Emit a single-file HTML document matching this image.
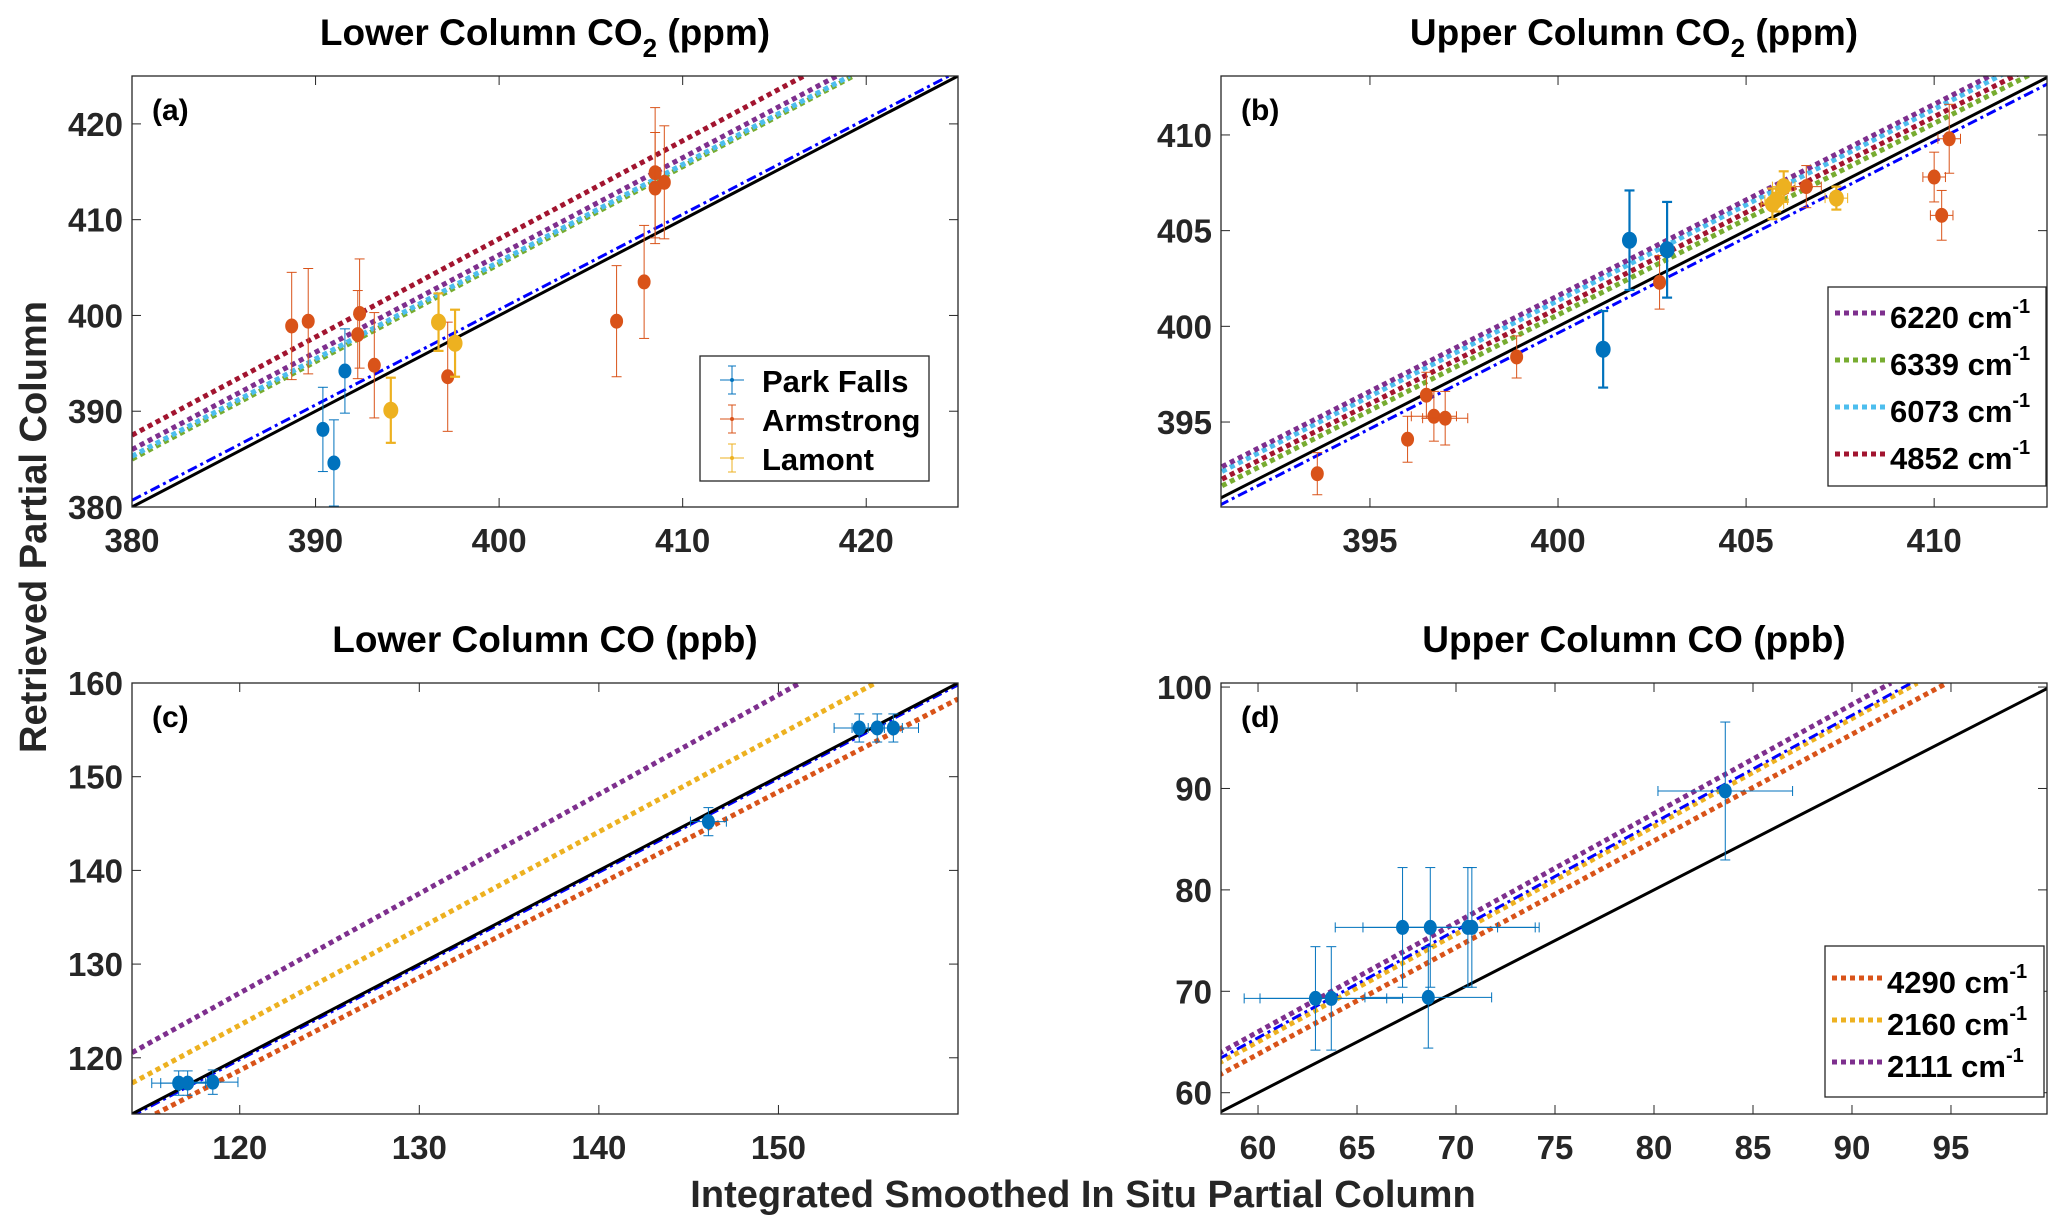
<!DOCTYPE html>
<html><head><meta charset="utf-8"><style>
html,body{margin:0;padding:0;background:#fff;}
svg{display:block;font-family:"Liberation Sans",Arial,sans-serif;}
</style></head><body>
<svg id="fig" width="2067" height="1229" viewBox="0 0 2067 1229" xmlns="http://www.w3.org/2000/svg">
<text x="0" y="0" transform="translate(46,527) rotate(-90)" text-anchor="middle" font-size="38" font-weight="bold" fill="#262626">Retrieved Partial Column</text>
<text x="1083" y="1207" text-anchor="middle" font-size="38" font-weight="bold" fill="#262626">Integrated Smoothed In Situ Partial Column</text>
</svg>
<script>
// ---- Panel (a) data ----
const aXTicks = [380, 390, 400, 410, 420];
const aYTicks = [380, 390, 400, 410, 420];
const aLineNames = ['4852 cm-1', '6220 cm-1', '6073 cm-1', '6339 cm-1', 'retrieval-fit', 'one-to-one'];
const aLineX0 = [380, 380, 380, 380, 380, 380];
const aLineY0 = [387.5, 386.0, 385.3, 385.0, 380.7, 380];
const aLineX1 = [416.6, 418.4, 419.1, 419.3, 424.5, 425];
const aLineY1 = [425, 425, 425, 425, 425, 425];
const aPFx = [390.4, 391.0, 391.6];
const aPFy = [388.1, 384.6, 394.2];
const aPFe = [4.4, 4.5, 4.4];
const aARx = [388.7, 389.6, 392.4, 392.3, 393.2, 397.2, 406.4, 407.9, 408.5, 408.5, 409.0];
const aARy = [398.9, 399.4, 400.2, 398.0, 394.8, 393.6, 399.4, 403.5, 414.9, 413.3, 413.9];
const aARe = [5.6, 5.5, 5.7, 4.6, 5.5, 5.7, 5.8, 5.9, 6.8, 5.8, 5.9];
const aLAx = [394.1, 396.7, 397.6];
const aLAy = [390.1, 399.3, 397.1];
const aLAe = [3.4, 3.0, 3.5];

// ---- Panel (b) data ----
const bXTicks = [395, 400, 405, 410];
const bYTicks = [395, 400, 405, 410];
const bLineOffsets = [1.6, 1.35, 0.95, 0.6, -0.35, 0];
const bPFx = [401.9, 402.9, 401.2];
const bPFy = [404.5, 404.0, 398.8];
const bPFe = [2.6, 2.5, 2.0];
const bARx = [393.6, 396.0, 396.5, 396.7, 397.0, 398.9, 402.7, 406.6, 410.0, 410.2, 410.4];
const bARy = [392.3, 394.1, 396.4, 395.3, 395.2, 398.4, 402.3, 407.3, 407.8, 405.8, 409.8];
const bARe = [1.1, 1.2, 1.2, 1.3, 1.4, 1.1, 1.4, 1.1, 1.3, 1.3, 1.8];
const bARxe = [0, 0.1, 0.1, 0.6, 0.6, 0.1, 0.1, 0.4, 0.3, 0.3, 0.3];
const bLAx = [405.7, 406.0, 405.8, 407.4];
const bLAy = [406.4, 407.3, 406.6, 406.7];
const bLAe = [0.8, 0.8, 0.6, 0.6];

// ---- Panel (c) data ----
const cXTicks = [120, 130, 140, 150];
const cYTicks = [120, 130, 140, 150, 160];
const cLineX0 = [114, 114, 115.3, 114, 114];
const cLineY0 = [120.55, 117.3, 114, 113.8, 114];
const cLineX1 = [151.2, 155.4, 160, 160, 160];
const cLineY1 = [160, 160, 158.3, 159.8, 160];
const cPtx = [116.6, 117.1, 118.5, 146.1, 154.5, 155.5, 156.4];
const cPty = [117.3, 117.3, 117.4, 145.2, 155.2, 155.2, 155.2];
const cPtye = [1.3, 1.3, 1.3, 1.5, 1.5, 1.5, 1.5];
const cPtxe = [1.5, 1.5, 1.4, 1.0, 1.4, 1.4, 1.4];

// ---- Panel (d) data ----
const dXTicks = [60, 65, 70, 75, 80, 85, 90, 95];
const dYTicks = [60, 70, 80, 90, 100];
const dLineX0 = [58, 58, 58, 58, 58];
const dLineY0 = [61.7, 62.9, 63.3, 63.85, 58];
const dLineX1 = [94.8, 93.3, 93.0, 91.97, 100];
const dLineY1 = [100.4, 100.4, 100.4, 100.4, 100];
const dPtx = [62.9, 63.7, 67.3, 68.7, 68.6, 70.6, 70.8, 83.6];
const dPty = [69.3, 69.3, 76.3, 76.3, 69.4, 76.3, 76.3, 89.75];
const dPtye = [5.1, 5.1, 5.9, 5.9, 5.0, 5.9, 5.9, 6.8];
const dPtxe = [3.6, 3.6, 3.4, 3.4, 3.2, 3.4, 3.4, 3.4];

const NS = 'http://www.w3.org/2000/svg';
const svg = document.getElementById('fig');
function mk(tag, attrs, parent) {
  const e = document.createElementNS(NS, tag);
  for (const k in attrs) e.setAttribute(k, attrs[k]);
  (parent || svg).appendChild(e);
  return e;
}
function scale(d0, d1, p0, p1) { return v => p0 + (v - d0) / (d1 - d0) * (p1 - p0); }

const C = { blue: '#0072BD', orange: '#D95319', yellow: '#EDB120', purple: '#7E2F8E', green: '#77AC30', cyan: '#4DBEEE', red: '#A2142F', dblue: '#0000FF' };

function axes(name, box, xr, yr, xt, yt, title, tag) {
  const g = mk('g', {});
  
  
  const sx = scale(xr[0], xr[1], box[0], box[2]);
  const sy = scale(yr[0], yr[1], box[3], box[1]);
  const r = mk('rect', { x: box[0], y: box[1], width: box[2] - box[0], height: box[3] - box[1], fill: '#fff', stroke: 'none' }, g);
  
  
  xt.forEach(v => {
    const x = sx(v);
    mk('line', { x1: x, y1: box[3], x2: x, y2: box[3] - 9, stroke: '#262626', 'stroke-width': 1 }, g);
    mk('line', { x1: x, y1: box[1], x2: x, y2: box[1] + 9, stroke: '#262626', 'stroke-width': 1 }, g);
    const t = mk('text', { x: x, y: box[3] + 45, 'text-anchor': 'middle', 'font-size': 33, 'font-weight': 'bold', fill: '#262626' }, g);
    
    
    t.textContent = v;
  });
  yt.forEach(v => {
    const y = sy(v);
    mk('line', { x1: box[0], y1: y, x2: box[0] + 9, y2: y, stroke: '#262626', 'stroke-width': 1 }, g);
    mk('line', { x1: box[2], y1: y, x2: box[2] - 9, y2: y, stroke: '#262626', 'stroke-width': 1 }, g);
    const t = mk('text', { x: box[0] - 9, y: y + 12, 'text-anchor': 'end', 'font-size': 33, 'font-weight': 'bold', fill: '#262626' }, g);
    
    
    t.textContent = v;
  });
  const tt = mk('text', { x: (box[0] + box[2]) / 2, y: box[1] - 31, 'text-anchor': 'middle', 'font-size': 37, 'font-weight': 'bold', fill: '#000' }, g);
  
  
  tt.innerHTML = title;
  const tg = mk('text', { x: box[0] + 20, y: box[1] + 44, 'font-size': 30, 'font-weight': 'bold', fill: '#000' }, g);
  
  
  tg.textContent = tag;
  return { g, sx, sy, box };
}
function frame(P) {
  const r = mk('rect', { x: P.box[0], y: P.box[1], width: P.box[2] - P.box[0], height: P.box[3] - P.box[1], fill: 'none', stroke: '#262626', 'stroke-width': 1.3 }, P.g);
  
  
}
function clip(P, id) {
  const cp = mk('clipPath', { id: id });
  mk('rect', { x: P.box[0], y: P.box[1], width: P.box[2] - P.box[0], height: P.box[3] - P.box[1] }, cp);
  return mk('g', { 'clip-path': 'url(#' + id + ')' }, P.g);
}
function fitLine(P, parent, x0, y0, x1, y1, color, style, nm) {
  const a = { x1: P.sx(x0), y1: P.sy(y0), x2: P.sx(x1), y2: P.sy(y1), stroke: color, fill: 'none' };
  if (style === 'dot') { a['stroke-width'] = 5; a['stroke-dasharray'] = '5 4'; }
  else if (style === 'dashdot') { a['stroke-width'] = 3; a['stroke-dasharray'] = '10 4 3 4'; }
  else { a['stroke-width'] = 3; }
  const l = mk('line', a, parent);
  
  
}
function point(P, parent, x, y, ye, xe, color, nm, big) {
  const g = mk('g', {}, parent);
  
  
  const px = P.sx(x), py = P.sy(y);
  const sw = big ? 2.2 : 1;
  if (ye > 0) {
    const t = P.sy(y + ye), b = P.sy(y - ye);
    mk('line', { x1: px, y1: t, x2: px, y2: b, stroke: color, 'stroke-width': sw }, g);
    mk('line', { x1: px - 5, y1: t, x2: px + 5, y2: t, stroke: color, 'stroke-width': sw }, g);
    mk('line', { x1: px - 5, y1: b, x2: px + 5, y2: b, stroke: color, 'stroke-width': sw }, g);
  }
  if (xe > 0) {
    const l = P.sx(x - xe), r = P.sx(x + xe);
    mk('line', { x1: l, y1: py, x2: r, y2: py, stroke: color, 'stroke-width': 1 }, g);
    mk('line', { x1: l, y1: py - 5, x2: l, y2: py + 5, stroke: color, 'stroke-width': 1 }, g);
    mk('line', { x1: r, y1: py - 5, x2: r, y2: py + 5, stroke: color, 'stroke-width': 1 }, g);
  }
  mk('ellipse', { cx: px, cy: py, rx: big ? 7.5 : 6.5, ry: big ? 8.5 : 7.5, fill: color }, g);
}
function legendBox(x, y, w, h, nm) {
  const g = mk('g', {});
  
  
  mk('rect', { x: x, y: y, width: w, height: h, fill: '#fff', stroke: '#262626', 'stroke-width': 1.3 }, g);
  return g;
}
function legendWave(g, x, y, color, label) {
  const e = mk('g', {}, g);
  
  
  mk('line', { x1: x, y1: y, x2: x + 51, y2: y, stroke: color, 'stroke-width': 5, 'stroke-dasharray': '5 4' }, e);
  const t = mk('text', { x: x + 55, y: y + 15, 'font-size': 31, 'font-weight': 'bold', fill: '#000' }, e);
  t.innerHTML = label + ' cm<tspan dy="-15" font-size="20">-1</tspan>';
}

// ---- Panel a ----
const PA = axes('panel-a-lower-co2', [132, 76, 958, 507], [380, 425], [380, 425], aXTicks, aYTicks, 'Lower Column CO<tspan dy="12" font-size="26">2</tspan><tspan dy="-12"> (ppm)</tspan>', '(a)');
const ga = clip(PA, 'ca');
const aCols = [C.red, C.purple, C.cyan, C.green, C.dblue, '#000'];
const aStyles = ['dot', 'dot', 'dot', 'dot', 'dashdot', 'solid'];
[5, 3, 2, 1, 0, 4].forEach(i => fitLine(PA, ga, aLineX0[i], aLineY0[i], aLineX1[i], aLineY1[i], aCols[i], aStyles[i], 'fit-line-' + aLineNames[i].replace(/ /g, '-')));
aARx.forEach((v, i) => point(PA, ga, v, aARy[i], aARe[i], 0, C.orange, 'armstrong-point'));
aPFx.forEach((v, i) => point(PA, ga, v, aPFy[i], aPFe[i], 0, C.blue, 'park-falls-point'));
aLAx.forEach((v, i) => point(PA, ga, v, aLAy[i], aLAe[i], 0, C.yellow, 'lamont-point', true));
frame(PA);
{
  const g = legendBox(700, 356, 229, 125, 'legend-sites');
  [['Park Falls', C.blue], ['Armstrong', C.orange], ['Lamont', C.yellow]].forEach((d, i) => {
    const y = 380 + i * 39;
    const e = mk('g', {}, g);
    
    
    mk('line', { x1: 720, y1: y, x2: 744, y2: y, stroke: d[1], 'stroke-width': 1 }, e);
    mk('line', { x1: 732, y1: y - 14, x2: 732, y2: y + 14, stroke: d[1], 'stroke-width': 1 }, e);
    mk('line', { x1: 728, y1: y - 14, x2: 736, y2: y - 14, stroke: d[1], 'stroke-width': 1 }, e);
    mk('line', { x1: 728, y1: y + 14, x2: 736, y2: y + 14, stroke: d[1], 'stroke-width': 1 }, e);
    mk('circle', { cx: 732, cy: y, r: 2, fill: d[1] }, e);
    const t = mk('text', { x: 762, y: y + 12, 'font-size': 31, 'font-weight': 'bold', fill: '#000' }, e);
    t.textContent = d[0];
  });
}

// ---- Panel b ----
const PB = axes('panel-b-upper-co2', [1221, 76, 2047, 507], [391.04, 413.0], [390.56, 413.08], bXTicks, bYTicks, 'Upper Column CO<tspan dy="12" font-size="26">2</tspan><tspan dy="-12"> (ppm)</tspan>', '(b)');
const gb = clip(PB, 'cb');
const bCols = [C.purple, C.cyan, C.red, C.green, C.dblue, '#000'];
const bStyles = ['dot', 'dot', 'dot', 'dot', 'dashdot', 'solid'];
[5, 3, 2, 1, 0, 4].forEach(i => fitLine(PB, gb, 390, 390 + bLineOffsets[i], 415, 415 + bLineOffsets[i], bCols[i], bStyles[i], 'fit-line-b-' + i));
bARx.forEach((v, i) => point(PB, gb, v, bARy[i], bARe[i], bARxe[i], C.orange, 'armstrong-point'));
bPFx.forEach((v, i) => point(PB, gb, v, bPFy[i], bPFe[i], 0.15, C.blue, 'park-falls-point', true));
bLAx.forEach((v, i) => point(PB, gb, v, bLAy[i], bLAe[i], 0.3, C.yellow, 'lamont-point', true));
frame(PB);
{
  const g = legendBox(1828, 287, 218, 199, 'legend-co2-bands');
  [['6220', C.purple], ['6339', C.green], ['6073', C.cyan], ['4852', C.red]].forEach((d, i) => legendWave(g, 1835, 313 + i * 47, d[1], d[0]));
}

// ---- Panel c ----
const PC = axes('panel-c-lower-co', [132, 683, 958, 1114], [114, 160], [114, 160], cXTicks, cYTicks, 'Lower Column CO (ppb)', '(c)');
const gc = clip(PC, 'cc');
const cCols = [C.purple, C.yellow, C.orange, C.dblue, '#000'];
const cStyles = ['dot', 'dot', 'dot', 'dashdot', 'solid'];
[3, 4, 2, 1, 0].forEach(i => fitLine(PC, gc, cLineX0[i], cLineY0[i], cLineX1[i], cLineY1[i], cCols[i], cStyles[i], 'fit-line-c-' + i));
cPtx.forEach((v, i) => point(PC, gc, v, cPty[i], cPtye[i], cPtxe[i], C.blue, 'data-point'));
frame(PC);

// ---- Panel d ----
const PD = axes('panel-d-upper-co', [1221, 683, 2047, 1114], [58.13, 99.85], [57.9, 100.4], dXTicks, dYTicks, 'Upper Column CO (ppb)', '(d)');
const gd = clip(PD, 'cd');
const dCols = [C.orange, C.yellow, C.dblue, C.purple, '#000'];
const dStyles = ['dot', 'dot', 'dashdot', 'dot', 'solid'];
[4, 0, 1, 2, 3].forEach(i => fitLine(PD, gd, dLineX0[i], dLineY0[i], dLineX1[i], dLineY1[i], dCols[i], dStyles[i], 'fit-line-d-' + i));
dPtx.forEach((v, i) => point(PD, gd, v, dPty[i], dPtye[i], dPtxe[i], C.blue, 'data-point'));
frame(PD);
{
  const g = legendBox(1825, 946, 219, 151, 'legend-co-bands');
  [['4290', C.orange], ['2160', C.yellow], ['2111', C.purple]].forEach((d, i) => legendWave(g, 1832, 978 + i * 42, d[1], d[0]));
}
</script>
</body></html>
